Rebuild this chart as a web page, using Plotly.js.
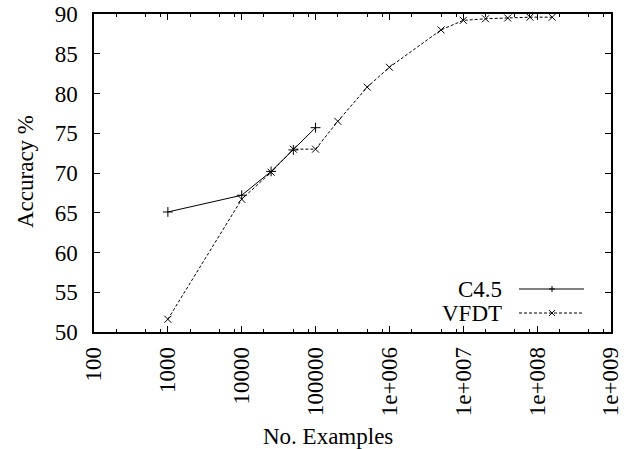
<!DOCTYPE html>
<html>
<head>
<meta charset="utf-8">
<script src="https://cdn.plot.ly/plotly-3.0.1.min.js"></script>
<style>
html,body{margin:0;padding:0;background:#fff;}
#chart{width:628px;height:449px;}
</style>
</head>
<body>
<div id="chart"></div>
<script>
const c45X = [1000, 10000, 25000, 50000, 100000];
const c45Y = [65.1, 67.2, 70.2, 72.9, 75.7];
const vfdtX = [1000, 10000, 25000, 50000, 100000, 200000, 500000, 1000000, 5000000, 10000000, 20000000, 40000000, 80000000, 160000000];
const vfdtY = [51.6, 66.7, 70.1, 73.0, 73.0, 76.5, 80.8, 83.3, 88.0, 89.2, 89.4, 89.5, 89.6, 89.6];
const xTickVals = [100, 1000, 10000, 100000, 1e6, 1e7, 1e8, 1e9];
const xTickText = ["100", "1000", "10000", "100000", "1e+006", "1e+007", "1e+008", "1e+009"];
const seriesNames = ["C4.5", "VFDT"];

(function () {
  var fontFam = "Liberation Serif";
  var fsize = 23;
  var minorVals = [];
  for (var d = 2; d < 9; d++) {
    [2, 5, 8].forEach(function (m) { minorVals.push(m * Math.pow(10, d)); });
  }
  var traces = [
    {x: c45X, y: c45Y, name: seriesNames[0], mode: 'lines+markers', type: 'scatter',
      line: {color: '#000', width: 1},
      marker: {symbol: 'cross-thin-open', size: 7, line: {color: '#000', width: 1}, color: '#000'}, showlegend: false},
    {x: vfdtX, y: vfdtY, name: seriesNames[1], mode: 'lines+markers', type: 'scatter',
      line: {color: '#000', width: 1, dash: '3px,2px'},
      marker: {symbol: 'x-thin-open', size: 7, line: {color: '#000', width: 1}, color: '#000'}, showlegend: false}
  ];
  var pl = 94, pt = 14, pw = 517, ph = 318;
  function px(x) { return (x - pl) / pw; }
  function py(y) { return (pt + ph - y) / ph; }
  var legendRows = [
    {name: seriesNames[0], y: 289, dash: 'solid', marker: 'plus'},
    {name: seriesNames[1], y: 313, dash: '3px,2px', marker: 'x'}
  ];
  var shapes = [], annotations = [];
  legendRows.forEach(function (r) {
    shapes.push({type: 'line', xref: 'paper', yref: 'paper', x0: px(519), x1: px(584), y0: py(r.y), y1: py(r.y),
      line: {color: '#000', width: 1, dash: r.dash}});
    var cx = 552, cy = r.y, s = 3, path;
    if (r.marker === 'plus') {
      path = 'M' + px(cx - s) + ',' + py(cy) + ' L' + px(cx + s) + ',' + py(cy) +
             ' M' + px(cx) + ',' + py(cy - s) + ' L' + px(cx) + ',' + py(cy + s);
    } else {
      path = 'M' + px(cx - s) + ',' + py(cy - s) + ' L' + px(cx + s) + ',' + py(cy + s) +
             ' M' + px(cx - s) + ',' + py(cy + s) + ' L' + px(cx + s) + ',' + py(cy - s);
    }
    shapes.push({type: 'path', xref: 'paper', yref: 'paper', path: path, line: {color: '#000', width: 1}});
    annotations.push({xref: 'paper', yref: 'paper', x: px(504), y: py(r.y), xanchor: 'right', yanchor: 'middle',
      text: r.name, showarrow: false, font: {family: fontFam, size: fsize, color: '#000'}});
  });
  annotations.push({xref: 'paper', yref: 'paper', x: px(328), y: py(436), xanchor: 'center', yanchor: 'middle',
    text: 'No. Examples', showarrow: false, font: {family: fontFam, size: fsize, color: '#000'}});
  annotations.push({xref: 'paper', yref: 'paper', x: px(25), y: py(172), xanchor: 'center', yanchor: 'middle',
    text: 'Accuracy %', textangle: -90, showarrow: false, font: {family: fontFam, size: fsize, color: '#000'}});
  var layout = {
    width: 628, height: 449,
    margin: {l: pl, r: 628 - pl - pw, t: pt, b: 449 - pt - ph, pad: 0},
    paper_bgcolor: '#fff', plot_bgcolor: '#fff',
    font: {family: fontFam, size: fsize, color: '#000'},
    showlegend: false,
    xaxis: {type: 'log', range: [2, 9], autorange: false,
      tickmode: 'array', tickvals: xTickVals, ticktext: xTickText, tickangle: -90,
      ticks: 'inside', ticklen: 6, tickwidth: 1, tickcolor: '#000',
      mirror: 'allticks', showline: true, linecolor: '#000', linewidth: 1.5,
      showgrid: false, zeroline: false, ticklabelstandoff: 4,
      tickfont: {family: fontFam, size: fsize, color: '#000'},
      minor: {tickmode: 'array', tickvals: minorVals, ticks: 'inside', ticklen: 3, tickwidth: 1, tickcolor: '#000', showgrid: false}},
    yaxis: {range: [50, 90], autorange: false,
      tickmode: 'linear', tick0: 50, dtick: 5,
      ticks: 'inside', ticklen: 6, tickwidth: 1, tickcolor: '#000',
      mirror: 'allticks', showline: true, linecolor: '#000', linewidth: 1.5,
      showgrid: false, zeroline: false, ticklabelstandoff: 10,
      tickfont: {family: fontFam, size: fsize, color: '#000'}},
    shapes: shapes, annotations: annotations
  };
  Plotly.newPlot('chart', traces, layout, {displayModeBar: false});
})();
</script>
</body>
</html>
